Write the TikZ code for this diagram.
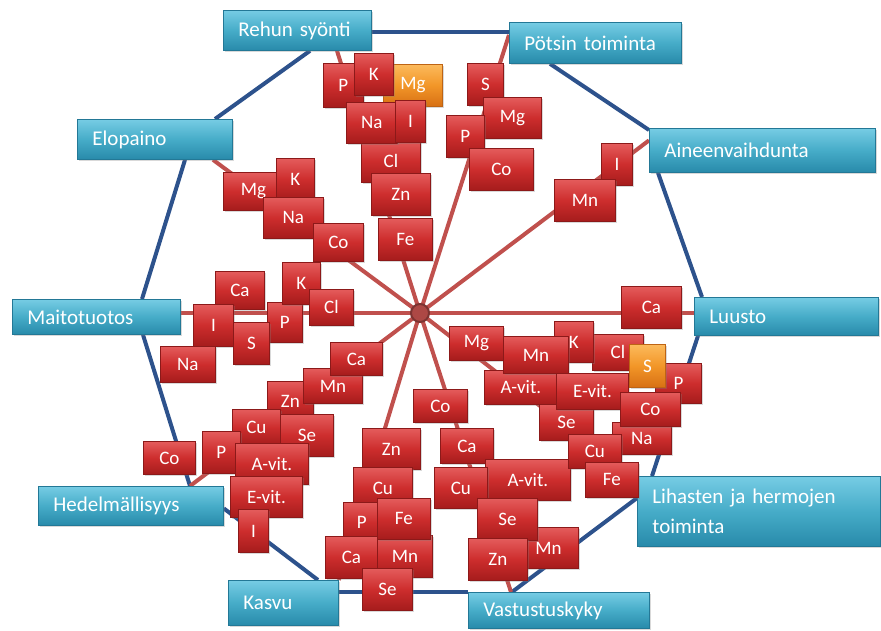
\documentclass[tikz,border=0pt]{standalone}
\usepackage{fontspec}
\usepackage{tikz}
\usetikzlibrary{shadows}
\newfontfamily\carlito{Carlito}
\definecolor{CatTop}{RGB}{118,204,228}
\definecolor{CatMid}{RGB}{70,172,200}
\definecolor{CatBot}{RGB}{40,138,170}
\definecolor{CatEdge}{RGB}{35,120,150}
\definecolor{ElTop}{RGB}{228,92,92}
\definecolor{ElMid}{RGB}{205,45,45}
\definecolor{ElBot}{RGB}{165,28,28}
\definecolor{ElEdge}{RGB}{140,25,25}
\definecolor{OrTop}{RGB}{252,186,92}
\definecolor{OrMid}{RGB}{242,150,40}
\definecolor{OrBot}{RGB}{215,112,20}
\definecolor{OrEdge}{RGB}{190,100,20}
\definecolor{SpokeRed}{RGB}{192,80,77}
\definecolor{RingBlue}{RGB}{45,82,140}
\pgfdeclarelayer{background}
\pgfsetlayers{background,main}

\begin{document}
\begin{tikzpicture}[x=1pt, y=-1pt,
    cat/.style 2 args={rectangle, anchor=north west, text width=#1pt,
                       minimum height=#2pt, inner xsep=15pt, inner ysep=0pt,
                       align=left, text=white,
                       font=\carlito\fontsize{21}{30}\selectfont,
                       draw=CatEdge, line width=0.8pt,
                       top color=CatTop, bottom color=CatBot, middle color=CatMid,
                       drop shadow={shadow xshift=1.5pt, shadow yshift=-2pt, opacity=.3}},
    el/.style 2 args={rectangle, anchor=north west, minimum width=#1pt,
                      minimum height=#2pt, inner sep=0pt, text=white,
                      font=\carlito\fontsize{19}{19}\selectfont,
                      draw=ElEdge, line width=0.8pt,
                      top color=ElTop, bottom color=ElBot, middle color=ElMid,
                      drop shadow={shadow xshift=1.5pt, shadow yshift=-2pt, opacity=.3}},
    orbox/.style 2 args={el={#1}{#2}, draw=OrEdge,
                         top color=OrTop, bottom color=OrBot, middle color=OrMid},
    spoke/.style={draw=SpokeRed, line width=4pt},
    ring/.style={draw=RingBlue, line width=4pt},
    hub/.style={circle, minimum size=18pt, inner sep=0pt, fill=SpokeRed!90!black,
                draw=SpokeRed!65!black, line width=2pt}
  ]
  \useasboundingbox (0,0) rectangle (881,630);

  % Effects around the wheel
  \node[cat={118}{40}] (reh) at (223,10) {Rehun syönti};
  \node[cat={142}{41}] (pot) at (509,22) {Pötsin toiminta};
  \node[cat={196}{44}] (ain) at (649,128) {Aineenvaihdunta};
  \node[cat={154}{38}] (luu) at (694,297) {Luusto};
  \node[cat={213}{70}] (lih) at (637,476) {Lihasten ja hermojen\\toiminta};
  \node[cat={151}{36}] (vas) at (468,592) {Vastustuskyky};
  \node[cat={80}{45}]  (kas) at (228,580) {Kasvu};
  \node[cat={155}{39}] (hed) at (38,486) {Hedelmällisyys};
  \node[cat={138}{35}] (mai) at (12,299) {Maitotuotos};
  \node[cat={125}{40}] (elo) at (77,119) {Elopaino};

  \coordinate (c) at (420,313);

  \begin{pgfonlayer}{background}
    % Outer ring
    \draw[ring] ([yshift=-2pt]reh.east) -- ([yshift=-2pt]reh.east -| pot.west);
    \draw[ring] ([xshift=41pt]pot.south west) -- ([yshift=-2pt]ain.north west);
    \draw[ring] ([xshift=9pt]ain.south west) -- ([xshift=8pt]luu.north west);
    \draw[ring] ([xshift=4pt]luu.south west) -- ([xshift=15pt]lih.north west);
    \draw[ring] ([yshift=-22pt]lih.north west) -- ([xshift=44pt]vas.north west);
    \draw[ring] (vas.north west) -- (vas.north west -| kas.east);
    \draw[ring] ([xshift=90pt]kas.north west) -- ([yshift=-2.5pt]hed.east);
    \draw[ring] ([xshift=152pt]hed.north west) -- ([xshift=131pt]mai.south west);
    \draw[ring] ([xshift=130pt]mai.north west) -- ([xshift=108pt]elo.south west);
    \draw[ring] ([xshift=138pt]elo.north west) -- ([xshift=87pt]reh.south west);

    % Spokes
    \draw[spoke] (c) -- ([xshift=114pt]reh.south west);
    \draw[spoke] (c) -- ([yshift=8pt]pot.west);
    \draw[spoke] (c) -- ([yshift=10pt]ain.west);
    \draw[spoke] (c) -- (c -| luu.west);
    \draw[spoke] (c) -- ([yshift=-5pt]lih.north west);
    \draw[spoke] (c) -- ([xshift=43pt]vas.north west);
    \draw[spoke] (c) -- (kas.north east);
    \draw[spoke] (c) -- ([xshift=152pt]hed.north west);
    \draw[spoke] (c) -- (c -| mai.east);
    \draw[spoke] (c) -- ([xshift=136pt]elo.south west);
  \end{pgfonlayer}
  \node[hub] (hubc) at (c) {};

  % Rehun syönti
  \node[el={40}{44}] (rsP) at (323,63) {P};
  \node[orbox={59}{42}] (rsMg) at (383,64) {Mg};
  \node[el={39}{42}] (rsK) at (354,53) {K};
  \node[el={59}{43}] (rsCl) at (361,139) {Cl};
  \node[el={51}{41}] (rsNa) at (346,102) {Na};
  \node[el={30}{42}] (rsI) at (395,100) {I};
  \node[el={59}{42}] (rsZn) at (371,173) {Zn};
  \node[el={54}{42}] (rsFe) at (378,218) {Fe};

  % Pötsin toiminta
  \node[el={36}{42}] (ptS) at (467,63) {S};
  \node[el={58}{41}] (ptMg) at (483,97) {Mg};
  \node[el={38}{42}] (ptP) at (446,115) {P};
  \node[el={64}{42}] (ptCo) at (469,148) {Co};

  % Aineenvaihdunta
  \node[el={31}{42}] (avI) at (601,143) {I};
  \node[el={61}{42}] (avMn) at (554,179) {Mn};

  % Elopaino
  \node[el={60}{38}] (epMg) at (223,172) {Mg};
  \node[el={38}{42}] (epK) at (276,158) {K};
  \node[el={60}{41}] (epNa) at (263,197) {Na};
  \node[el={50}{38}] (epCo) at (313,223) {Co};

  % Maitotuotos
  \node[el={49}{38}] (mtCa) at (215,271) {Ca};
  \node[el={35}{40}] (mtP) at (267,302) {P};
  \node[el={38}{42}] (mtK) at (282,262) {K};
  \node[el={44}{36}] (mtCl) at (309,289) {Cl};
  \node[el={40}{42}] (mtI) at (193,304) {I};
  \node[el={36}{42}] (mtS) at (233,322) {S};
  \node[el={55}{36}] (mtNa) at (160,346) {Na};

  % Hedelmällisyys
  \node[el={46}{39}] (hmZn) at (267,381) {Zn};
  \node[el={59}{35}] (hmMn) at (303,368) {Mn};
  \node[el={52}{33}] (hmCa) at (330,342) {Ca};
  \node[el={48}{36}] (hmCu) at (232,409) {Cu};
  \node[el={53}{42}] (hmSe) at (280,414) {Se};
  \node[el={38}{42}] (hmP) at (202,431) {P};
  \node[el={52}{33}] (hmCo) at (143,441) {Co};
  \node[el={73}{41}] (hmAv) at (235,443) {A-vit.};
  \node[el={72}{41}] (hmEv) at (230,476) {E-vit.};
  \node[el={30}{43}] (hmI) at (238,509) {I};

  % Kasvu
  \node[el={58}{41}] (ksZn) at (362,428) {Zn};
  \node[el={59}{41}] (ksCu) at (353,467) {Cu};
  \node[el={37}{40}] (ksP) at (343,502) {P};
  \node[el={52}{42}] (ksCa) at (325,536) {Ca};
  \node[el={55}{42}] (ksMn) at (377,535) {Mn};
  \node[el={53}{41}] (ksFe) at (377,498) {Fe};
  \node[el={50}{42}] (ksSe) at (362,568) {Se};

  % Vastustuskyky
  \node[el={54}{33}] (vkCo) at (413,389) {Co};
  \node[el={53}{35}] (vkCa) at (440,428) {Ca};
  \node[el={85}{41}] (vkAv) at (485,459) {A-vit.};
  \node[el={53}{41}] (vkCu) at (434,467) {Cu};
  \node[el={60}{41}] (vkMn) at (518,527) {Mn};
  \node[el={60}{42}] (vkSe) at (477,498) {Se};
  \node[el={59}{42}] (vkZn) at (468,538) {Zn};

  % Luusto
  \node[el={60}{42}] (luCa) at (621,286) {Ca};

  % Lihasten ja hermojen toiminta
  \node[el={54}{34}] (lhMg) at (449,326) {Mg};
  \node[el={73}{34}] (lhAv) at (484,370) {A-vit.};
  \node[el={51}{36}] (lhCl) at (592,334) {Cl};
  \node[el={39}{41}] (lhK) at (554,321) {K};
  \node[el={65}{37}] (lhMn) at (503,336) {Mn};
  \node[el={54}{36}] (lhSe) at (539,404) {Se};
  \node[el={72}{36}] (lhEv) at (556,373) {E-vit.};
  \node[el={46}{40}] (lhP) at (655,363) {P};
  \node[orbox={36}{43}] (lhS) at (629,344) {S};
  \node[el={59}{32}] (lhNa) at (612,422) {Na};
  \node[el={60}{34}] (lhCo) at (620,392) {Co};
  \node[el={53}{34}] (lhCu) at (568,434) {Cu};
  \node[el={53}{35}] (lhFe) at (585,462) {Fe};
\end{tikzpicture}
\end{document}
